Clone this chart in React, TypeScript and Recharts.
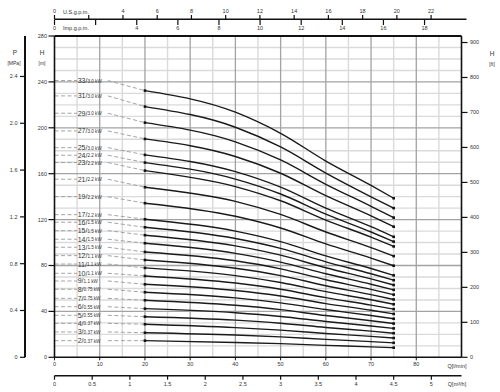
import React from "react";
import { ComposedChart, Line, XAxis, YAxis, ReferenceLine } from "recharts";

// flow points (l/min) where each curve was read
const flowPoints = [20, 40, 50, 60, 70, 75];

const stages = [33, 31, 29, 27, 25, 24, 23, 21, 19, 17, 16, 15, 14, 13, 12, 11, 10, 9, 8, 7, 6, 5, 4, 3, 2];
const motorKw = [
  "3.0", "3.0", "3.0", "3.0", "3.0", "2.2", "2.2", "2.2", "2.2", "2.2", "1.5", "1.5", "1.5",
  "1.5", "1.1", "1.1", "1.1", "1.1", "0.75", "0.75", "0.55", "0.55", "0.37", "0.37", "0.37",
];
// head (m) at which each model label sits
const labelHeads = [
  241.2, 227.8, 212.7, 197.3, 182.7, 176.1, 169.7, 155.2, 140.0, 124.3, 117.7, 110.4, 102.9,
  95.9, 88.6, 81.3, 73.2, 66.5, 59.3, 51.4, 44.1, 36.6, 29.6, 22.1, 14.5,
];

// head (m) per model at flowPoints
const head33 = [232.4, 213.6, 195.2, 171.0, 149.8, 138.6];
const head31 = [218.5, 200.5, 183.3, 160.6, 139.9, 130.0];
const head29 = [204.5, 187.8, 172.0, 150.8, 131.6, 121.7];
const head27 = [190.3, 175.0, 160.4, 140.8, 123.2, 113.8];
const head25 = [176.4, 161.8, 148.3, 130.0, 113.8, 105.0];
const head24 = [169.7, 155.3, 142.3, 124.8, 109.2, 100.8];
const head23 = [162.7, 148.8, 136.4, 119.6, 104.7, 96.6];
const head21 = [148.2, 135.9, 124.5, 109.2, 95.6, 88.2];
const head19 = [134.3, 122.9, 112.7, 98.8, 86.5, 79.8];
const head17 = [120.3, 110.0, 100.8, 88.4, 77.4, 71.4];
const head16 = [113.3, 103.5, 94.9, 83.2, 72.8, 67.2];
const head15 = [106.4, 97.1, 89.0, 78.0, 68.3, 63.0];
const head14 = [99.4, 90.6, 83.0, 72.8, 63.7, 58.8];
const head13 = [91.8, 84.1, 77.1, 67.6, 59.2, 54.6];
const head12 = [84.8, 77.6, 71.2, 62.4, 54.6, 50.4];
const head11 = [77.9, 71.2, 65.2, 57.2, 50.1, 46.2];
const head10 = [70.9, 64.7, 59.3, 52.0, 45.5, 42.0];
const head9 = [63.6, 58.2, 53.4, 46.8, 41.0, 37.8];
const head8 = [56.7, 51.8, 47.4, 41.6, 36.4, 33.6];
const head7 = [49.7, 45.3, 41.5, 36.4, 31.9, 29.4];
const head6 = [42.4, 38.8, 35.6, 31.2, 27.3, 25.2];
const head5 = [35.4, 32.4, 29.7, 26.0, 22.8, 21.0];
const head4 = [28.8, 25.9, 23.7, 20.8, 18.2, 16.8];
const head3 = [21.4, 19.4, 17.8, 15.6, 13.7, 12.6];
const head2 = [14.5, 12.9, 11.9, 10.4, 9.1, 8.4];

const heads = [
  head33, head31, head29, head27, head25, head24, head23, head21, head19, head17, head16, head15,
  head14, head13, head12, head11, head10, head9, head8, head7, head6, head5, head4, head3, head2,
];

// axis ticks
const lpmTicks = [0, 10, 20, 30, 40, 50, 60, 70, 80];
const m3hTicks = [0, 0.5, 1, 1.5, 2, 2.5, 3, 3.5, 4, 4.5, 5];
const hTicks = [0, 40, 80, 120, 160, 200, 240, 280];
const pTicks = [0, 0.4, 0.8, 1.2, 1.6, 2.0, 2.4];
const ftTicks = [0, 100, 200, 300, 400, 500, 600, 700, 800, 900];
const usTicks = [0, 2, 4, 6, 8, 10, 12, 14, 16, 18, 20, 22];
const impTicks = [0, 2, 4, 6, 8, 10, 12, 14, 16, 18];

const minorX = [5, 15, 25, 35, 45, 55, 65, 75, 85];
const majorX = [10, 20, 30, 40, 50, 60, 70, 80];
const minorY = [10, 20, 30, 50, 60, 70, 90, 100, 110, 130, 140, 150, 170, 180, 190, 210, 220, 230, 250, 260, 270];
const majorY = [40, 80, 120, 160, 200, 240];

const Q_MAX = 90;
const H_MAX = 280;
const M_PER_MPA = 101.97;
const M_PER_FT = 0.3048;
const LPM_PER_M3H = 16.667;
const LPM_PER_USGPM = 3.7854;
const LPM_PER_IMPGPM = 4.5461;

const FONT = '"Liberation Sans", Arial, sans-serif';
const tickStyle = { fontSize: 5.5, fill: "#333", fontFamily: FONT };
const axisLine = { stroke: "#111", strokeWidth: 1.6 };

const fmtP = (v: number) => (v === 0 ? "0" : v.toFixed(1));
const hideTwo = (v: number) => (v === 2 ? "" : String(v));

const CurveDot = (props: any) => {
  const { cx, cy, index } = props;
  if (index !== 0 && index !== flowPoints.length - 1) return <g key={`d${index}`} />;
  return <rect key={`d${index}`} x={cx - 1.3} y={cy - 1.3} width={2.6} height={2.6} fill="#111" />;
};

const makeLabelDot = (stage: number, kw: string) => (props: any) => {
  const { cx, cy, index } = props;
  if (index !== 1) return <g key={`l${index}`} />;
  return (
    <text key={`l${index}`} x={cx + 0.6} y={cy} dominantBaseline="central" fill="#333" fontFamily={FONT} fontSize={7}>
      {stage}/<tspan fontSize={4.6}>{kw} kW</tspan>
    </text>
  );
};

export default function App() {
  const curves = heads.map((row) => row.map((h, j) => ({ q: flowPoints[j], h })));
  const leaders = heads.map((row, i) => [
    { q: 0, h: labelHeads[i] },
    { q: 5, h: labelHeads[i] },
    { q: 8, h: null },
    { q: 11.8, h: labelHeads[i] },
    { q: 20, h: row[0] },
  ]);
  // flow range expressed in the other units, so the extra scales have a domain
  const m3hSpan = [{ q: 0 }, { q: Q_MAX / LPM_PER_M3H }];
  const gpmSpan = [{ q: 0, r: 0 }, { q: Q_MAX, r: 1 }];

  return (
    <div style={{ position: "absolute", left: 0, top: 0, width: 500, height: 392, background: "#fff", fontFamily: FONT }}>
      <ComposedChart width={500} height={392} margin={{ top: 36, right: 0, bottom: 0, left: 0 }} data={m3hSpan}>
        <XAxis
          xAxisId="lpm"
          dataKey="q"
          type="number"
          domain={[0, Q_MAX]}
          allowDataOverflow
          ticks={lpmTicks}
          height={18.4}
          tickSize={3}
          tickMargin={2}
          tick={tickStyle}
          axisLine={axisLine}
          tickLine={{ stroke: "#111" }}
        />
        <XAxis
          xAxisId="m3h"
          dataKey="q"
          type="number"
          domain={[0, Q_MAX / LPM_PER_M3H]}
          allowDataOverflow
          ticks={m3hTicks}
          height={16.3}
          tickSize={4}
          tickMargin={2}
          tick={tickStyle}
          axisLine={axisLine}
          tickLine={{ stroke: "#111", strokeWidth: 1.2 }}
        />
        <YAxis
          yAxisId="h"
          type="number"
          domain={[0, H_MAX]}
          allowDataOverflow
          ticks={hTicks}
          width={29.5}
          tickSize={6}
          tickMargin={1.5}
          tick={tickStyle}
          axisLine={axisLine}
          tickLine={{ stroke: "#111", strokeWidth: 1.2 }}
        />
        <YAxis
          yAxisId="p"
          type="number"
          domain={[0, H_MAX / M_PER_MPA]}
          allowDataOverflow
          ticks={pTicks}
          tickFormatter={fmtP}
          width={25}
          tickSize={5}
          tickMargin={2.5}
          tick={tickStyle}
          axisLine={{ stroke: "#111", strokeWidth: 2 }}
          tickLine={{ stroke: "#111", strokeWidth: 1.2 }}
        />
        <YAxis
          yAxisId="ft"
          orientation="right"
          type="number"
          domain={[0, H_MAX / M_PER_FT]}
          allowDataOverflow
          ticks={ftTicks}
          width={38.5}
          tickSize={6}
          tickMargin={2.5}
          tick={{ ...tickStyle, textAnchor: "start" }}
          axisLine={axisLine}
          tickLine={{ stroke: "#111", strokeWidth: 1.2 }}
        />

        {minorX.map((v) => (
          <ReferenceLine key={`mx${v}`} xAxisId="lpm" yAxisId="h" x={v} stroke="#dadada" strokeWidth={1.4} />
        ))}
        {minorY.map((v) => (
          <ReferenceLine key={`my${v}`} xAxisId="lpm" yAxisId="h" y={v} stroke="#dadada" strokeWidth={1.4} />
        ))}
        {majorX.map((v) => (
          <ReferenceLine key={`Mx${v}`} xAxisId="lpm" yAxisId="h" x={v} stroke="#a3a3a3" strokeWidth={1.3} />
        ))}
        {majorY.map((v) => (
          <ReferenceLine key={`My${v}`} xAxisId="lpm" yAxisId="h" y={v} stroke="#a3a3a3" strokeWidth={1.3} />
        ))}
        <ReferenceLine xAxisId="lpm" yAxisId="h" y={H_MAX} stroke="#111" strokeWidth={1.8} />

        {leaders.map((d, i) => (
          <Line
            key={`lead${stages[i]}`}
            xAxisId="lpm"
            yAxisId="h"
            data={d}
            dataKey="h"
            type="linear"
            stroke="#9a9a9a"
            strokeWidth={0.9}
            strokeDasharray="4 2.5"
            connectNulls={false}
            dot={makeLabelDot(stages[i], motorKw[i])}
            activeDot={false}
            isAnimationActive={false}
          />
        ))}
        {curves.map((d, i) => (
          <Line
            key={`c${stages[i]}`}
            xAxisId="lpm"
            yAxisId="h"
            data={d}
            dataKey="h"
            type="monotone"
            stroke="#1a1a1a"
            strokeWidth={1.4}
            dot={CurveDot}
            activeDot={false}
            isAnimationActive={false}
          />
        ))}
      </ComposedChart>

      {/* gallons-per-minute scales above the plot */}
      <div style={{ position: "absolute", left: 0, top: 0 }}>
        <ComposedChart width={505} height={40} margin={{ top: 0, right: 43.5, bottom: 0, left: 54.5 }} data={gpmSpan}>
          <XAxis
            xAxisId="us"
            dataKey="q"
            orientation="top"
            type="number"
            domain={[0, Q_MAX / LPM_PER_USGPM]}
            allowDataOverflow
            ticks={usTicks}
            tickFormatter={hideTwo}
            height={19}
            tickSize={4}
            tickMargin={2}
            tick={tickStyle}
            axisLine={false}
            tickLine={{ stroke: "#111", strokeWidth: 1.2 }}
          />
          <XAxis
            xAxisId="imp"
            dataKey="q"
            orientation="bottom"
            type="number"
            domain={[0, Q_MAX / LPM_PER_IMPGPM]}
            allowDataOverflow
            ticks={impTicks}
            tickFormatter={hideTwo}
            height={20.5}
            tickSize={5.5}
            tickMargin={1.5}
            tick={tickStyle}
            axisLine={false}
            tickLine={{ stroke: "#111", strokeWidth: 1.2 }}
          />
          <YAxis hide domain={[0, 1]} />
        </ComposedChart>
      </div>

      <svg width={500} height={392} style={{ position: "absolute", left: 0, top: 0, pointerEvents: "none" }}>
        <line x1={54.5} y1={19.3} x2={466.5} y2={19.3} stroke="#111" strokeWidth={1.6} />
        <g fill="#333" fontFamily={FONT} textAnchor="middle">
          <text x={15} y={55} fontSize={6.5}>P</text>
          <text x={14} y={65} fontSize={5}>[MPa]</text>
          <text x={42} y={55} fontSize={6.5}>H</text>
          <text x={42} y={65} fontSize={5}>[m]</text>
          <text x={492} y={56} fontSize={6.5}>H</text>
          <text x={492} y={66} fontSize={5}>[ft]</text>
          <text x={457} y={367.5} fontSize={5.5}>Q[l/min]</text>
          <text x={457} y={386} fontSize={5.5}>Q[m³/h]</text>
          <text x={63} y={14} fontSize={5.5} textAnchor="start">U.S.g.p.m.</text>
          <text x={63} y={30} fontSize={5.5} textAnchor="start">Imp.g.p.m.</text>
        </g>
      </svg>
    </div>
  );
}
